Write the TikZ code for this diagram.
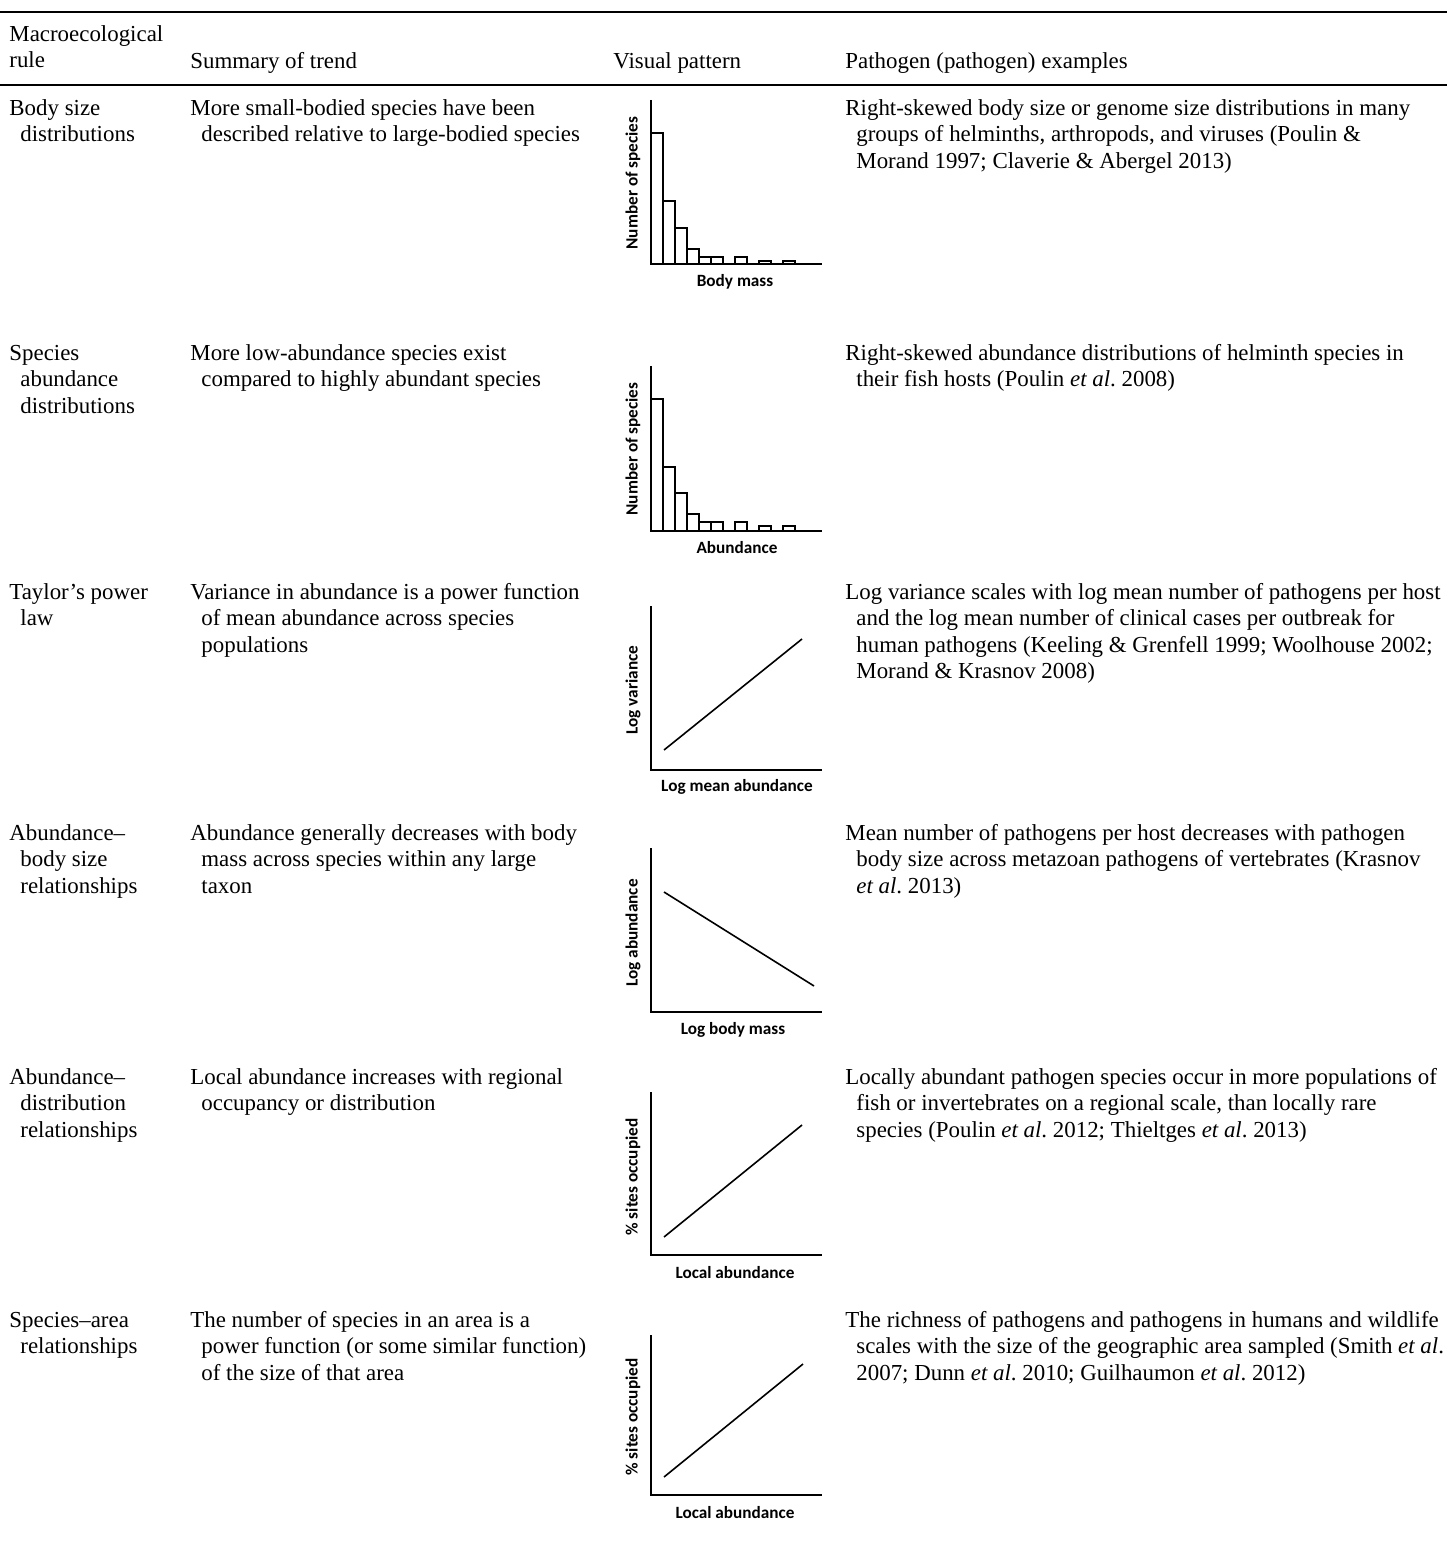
\documentclass[tikz,border=0pt]{standalone}
\usepackage{fontspec}
\setmainfont{Liberation Serif}
\newfontfamily\axisfont{Carlito}
\newcommand\cellfont{\fontsize{11.45}{13.25}\selectfont\frenchspacing}
\newcommand\hind{\hspace*{5.5pt}}
\tikzset{
  cell/.style={anchor=north west, inner sep=0pt, align=left, font=\cellfont},
  rulebar/.style={line width=1.4pt},
  axis/.style={line width=1pt},
  bar/.style={draw, line width=0.6pt},
  trend/.style={line width=0.8pt},
  axlabel/.style={inner sep=0pt, font=\axisfont\bfseries\fontsize{8.6}{9}\selectfont}
}
\begin{document}
\begin{tikzpicture}[x=0.5pt,y=-0.5pt]
  \useasboundingbox (0,0) rectangle (1447,1550);
  % rules
  \draw[rulebar] (0,12) -- (1447,12);
  \draw[rulebar] (0,85) -- (1447,85);

  % header
  \node[cell] (hRule) at (9,22.5) {\strut Macroecological\\rule};
  \node[cell] (hTrend) at (190,49.5) {\strut Summary of trend};
  \node[cell] (hVisual) at (613,49.5) {\strut Visual pattern};
  \node[cell] (hExample) at (845,49.5) {\strut Pathogen (pathogen) examples};

  % body size distributions
  \node[cell] (rule1) at (9,96.5) {\strut Body size\\\hind distributions};
  \node[cell] (trend1) at (190,96.5) {\strut More small-bodied species have been\\\hind described relative to large-bodied species};
  \node[cell] (ex1) at (845,96.5) {\strut Right-skewed body size or genome size distributions in many\\\hind groups of helminths, arthropods, and viruses (Poulin \&\\\hind Morand 1997; Claverie \& Abergel 2013)};

  % species abundance distributions
  \node[cell] (rule2) at (9,341.5) {\strut Species\\\hind abundance\\\hind distributions};
  \node[cell] (trend2) at (190,341.5) {\strut More low-abundance species exist\\\hind compared to highly abundant species};
  \node[cell] (ex2) at (845,341.5) {\strut Right-skewed abundance distributions of helminth species in\\\hind their fish hosts (Poulin \emph{et al}. 2008)};

  % taylor's power law
  \node[cell] (rule3) at (9,580.5) {\strut Taylor’s power\\\hind law};
  \node[cell] (trend3) at (190,580.5) {\strut Variance in abundance is a power function\\\hind of mean abundance across species\\\hind populations};
  \node[cell] (ex3) at (845,580.5) {\strut Log variance scales with log mean number of pathogens per host\\\hind and the log mean number of clinical cases per outbreak for\\\hind human pathogens (Keeling \& Grenfell 1999; Woolhouse 2002;\\\hind Morand \& Krasnov 2008)};

  % abundance-body size
  \node[cell] (rule4) at (9,821.5) {\strut Abundance–\\\hind body size\\\hind relationships};
  \node[cell] (trend4) at (190,821.5) {\strut Abundance generally decreases with body\\\hind mass across species within any large\\\hind taxon};
  \node[cell] (ex4) at (845,821.5) {\strut Mean number of pathogens per host decreases with pathogen\\\hind body size across metazoan pathogens of vertebrates (Krasnov\\\hind \emph{et al}. 2013)};

  % abundance-distribution
  \node[cell] (rule5) at (9,1065.5) {\strut Abundance–\\\hind distribution\\\hind relationships};
  \node[cell] (trend5) at (190,1065.5) {\strut Local abundance increases with regional\\\hind occupancy or distribution};
  \node[cell] (ex5) at (845,1065.5) {\strut Locally abundant pathogen species occur in more populations of\\\hind fish or invertebrates on a regional scale, than locally rare\\\hind species (Poulin \emph{et al}. 2012; Thieltges \emph{et al}. 2013)};

  % species-area
  \node[cell] (rule6) at (9,1308.5) {\strut Species–area\\\hind relationships};
  \node[cell] (trend6) at (190,1308.5) {\strut The number of species in an area is a\\\hind power function (or some similar function)\\\hind of the size of that area};
  \node[cell] (ex6) at (845,1308.5) {\strut The richness of pathogens and pathogens in humans and wildlife\\\hind scales with the size of the geographic area sampled (Smith \emph{et al}.\\\hind 2007; Dunn \emph{et al}. 2010; Guilhaumon \emph{et al}. 2012)};

  % histograms
  \draw[axis] (651,100) -- (651,264) -- (822,264);
  \foreach \x/\h in {0/131, 12/63, 24/36, 36/15, 48/7, 60/7, 84/7, 108/3, 132/3}
    \draw[bar] (651+\x,264) rectangle (663+\x,264-\h);
  \node[axlabel, rotate=90] (ylab1) at (633,183) {Number of species};
  \node[axlabel] (xlab1) at (735,282) {Body mass};

  \draw[axis] (651,366) -- (651,531) -- (822,531);
  \foreach \x/\h in {0/132, 12/64, 24/38, 36/17, 48/9, 60/9, 84/9, 108/5, 132/5}
    \draw[bar] (651+\x,531) rectangle (663+\x,531-\h);
  \node[axlabel, rotate=90] (ylab2) at (633,449) {Number of species};
  \node[axlabel] (xlab2) at (737,548) {Abundance};

  % line plots
  \draw[axis] (651,606) -- (651,770) -- (822,770);
  \coordinate (a3) at (664,750);
  \coordinate (b3) at (802,639);
  \draw[trend] (a3) -- (b3);
  \node[axlabel, rotate=90] (ylab3) at (633,690) {Log variance};
  \node[axlabel] (xlab3) at (737,787) {Log mean abundance};

  \draw[axis] (651,848) -- (651,1012) -- (822,1012);
  \coordinate (a4) at (664,892);
  \coordinate (b4) at (814,986);
  \draw[trend] (a4) -- (b4);
  \node[axlabel, rotate=90] (ylab4) at (633,933) {Log abundance};
  \node[axlabel] (xlab4) at (733,1030) {Log body mass};

  \draw[axis] (651,1092) -- (651,1255) -- (822,1255);
  \coordinate (a5) at (664,1237);
  \coordinate (b5) at (802,1125);
  \draw[trend] (a5) -- (b5);
  \node[axlabel, rotate=90] (ylab5) at (633,1177) {\% sites occupied};
  \node[axlabel] (xlab5) at (735,1273) {Local abundance};

  \draw[axis] (651,1335) -- (651,1495) -- (822,1495);
  \coordinate (a6) at (664,1477);
  \coordinate (b6) at (803,1364);
  \draw[trend] (a6) -- (b6);
  \node[axlabel, rotate=90] (ylab6) at (633,1417) {\% sites occupied};
  \node[axlabel] (xlab6) at (735,1513) {Local abundance};
\end{tikzpicture}
\end{document}
